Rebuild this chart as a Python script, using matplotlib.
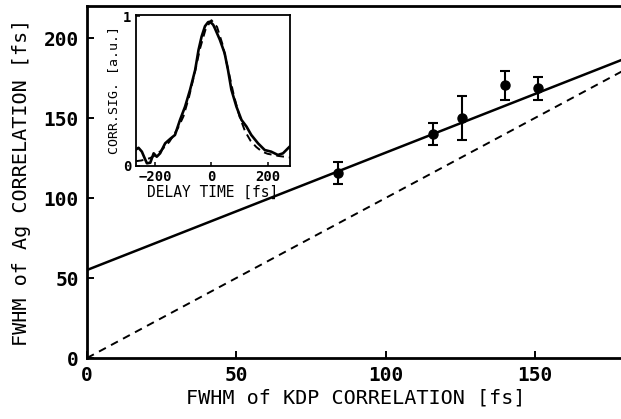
import matplotlib
matplotlib.use('Agg')
from matplotlib import pyplot as plt
import numpy as np

plt.rcParams.update({
    'font.family': 'DejaVu Sans Mono',
    'font.weight': 'bold',
    'font.size': 14,
})

# measured points: FWHM of KDP vs FWHM of Ag correlation [fs]
kdp_fwhm = [84, 116, 125.5, 140, 151]
ag_fwhm = [115.5, 140, 150, 170.5, 168.5]
ag_err = [7, 7, 14, 9, 7]

# fitted line and reference line y = x
fit_x = [0, 180]
fit_y = [55, 187]
ref_x = [0, 180]
ref_y = [0, 180]

# inset: correlation trace, measured (solid) and fit (dashed)
delay_meas = [-268, -260, -248, -238, -230, -218, -206, -195, -183, -165, -147, -130,
              -112, -94, -76, -58, -46, -35, -23, -12, -5, 6, 12, 30, 47, 59, 71,
              89, 107, 125, 142, 166, 190, 213, 237, 255, 273, 280]
sig_meas = [0.11, 0.12, 0.094, 0.05, 0.016, 0.02, 0.083, 0.06, 0.083, 0.15, 0.18, 0.206,
            0.307, 0.396, 0.51, 0.642, 0.776, 0.866, 0.935, 0.962, 0.965, 0.945, 0.922, 0.844,
            0.754, 0.642, 0.51, 0.396, 0.307, 0.262, 0.206, 0.15, 0.105, 0.094, 0.072,
            0.083, 0.117, 0.13]
delay_fit = [-270, -250, -220, -200, -180, -150, -120, -100, -80, -60, -40, -20, 0,
             20, 40, 60, 80, 100, 120, 140, 160, 180, 200, 240, 280]
sig_fit = [0.03, 0.035, 0.05, 0.07, 0.10, 0.16, 0.25, 0.33, 0.46, 0.62, 0.79, 0.92, 0.975,
           0.93, 0.81, 0.64, 0.47, 0.33, 0.23, 0.165, 0.125, 0.095, 0.08, 0.065, 0.055]

fig = plt.figure(figsize=(6.21, 4.19), dpi=100)
ax = fig.add_axes([87/621, 61/419, (624.5-87)/621, 352/419])

ax.plot(fit_x, fit_y, '-', color='k', lw=1.8)
ax.plot(ref_x, ref_y, '--', color='k', lw=1.4, dashes=(4, 3))
ax.errorbar(kdp_fwhm, ag_fwhm, yerr=ag_err, fmt='o', color='k', ms=6.5,
            elinewidth=1.5, capsize=3.5, capthick=1.5)

ax.set_xlim(0, 180)
ax.set_ylim(0, 220)
ax.set_xticks([0, 50, 100, 150])
ax.set_yticks([0, 50, 100, 150, 200])
ax.tick_params(direction='in', length=5, width=1.4, pad=6)
for s in ax.spines.values():
    s.set_linewidth(2)
ax.set_xlabel('FWHM of KDP CORRELATION [fs]', fontsize=14.5, labelpad=2)
ax.set_ylabel('FWHM of Ag CORRELATION [fs]', fontsize=14.5, labelpad=9)

# inset
axi = fig.add_axes([135.7/621, (419-165.7)/419, (290-135.7)/621, (165.7-15)/419])
axi.plot(delay_meas, sig_meas, '-', color='k', lw=1.9)
axi.plot(delay_fit, sig_fit, '--', color='k', lw=1.4, dashes=(4, 2.5))
axi.set_xlim(-270, 280)
axi.set_ylim(0, 1.01)
axi.set_xticks([-200, 0, 200])
axi.set_yticks([0, 1])
axi.tick_params(direction='in', length=3, width=1.1, labelsize=10, pad=3)
for s in axi.spines.values():
    s.set_linewidth(1.3)
axi.set_xlabel('DELAY TIME [fs]', fontsize=10.5, labelpad=1)
axi.set_ylabel('CORR.SIG. [a.u.]', fontsize=9.5, labelpad=2)

fig.savefig('out.png', dpi=100)
